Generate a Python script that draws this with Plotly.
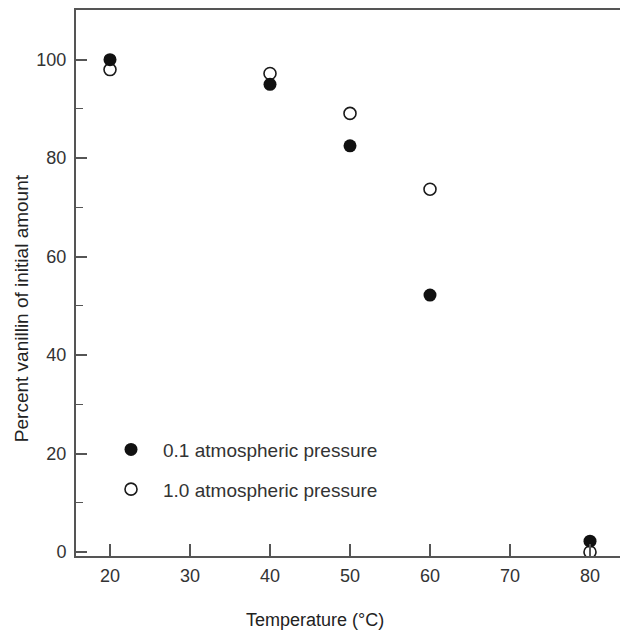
import plotly.graph_objects as go

temperature = [20, 40, 50, 60, 80]
pct_low_pressure = [100.0, 95.0, 82.5, 52.2, 2.2]     # 0.1 atmospheric pressure
pct_high_pressure = [98.0, 97.2, 89.1, 73.7, 0.0]     # 1.0 atmospheric pressure
series_names = ["0.1 atmospheric pressure", "1.0 atmospheric pressure"]
x_ticks = [20, 30, 40, 50, 60, 70, 80]
y_ticks = [0, 20, 40, 60, 80, 100]
x_title = "Temperature (°C)"
y_title = "Percent vanillin of initial amount"

FONT = "Liberation Sans, Arial, sans-serif"
AX = "#555555"
TXT = "#333333"

fig = go.Figure()
fig.add_trace(go.Scatter(
    x=temperature, y=pct_high_pressure, mode="markers", name=series_names[1],
    legendgroup="b", legendrank=2,
    marker=dict(symbol="circle", size=12, color="white",
                line=dict(color="#1a1a1a", width=1.6)),
))
fig.add_trace(go.Scatter(
    x=temperature, y=pct_low_pressure, mode="markers", name=series_names[0],
    legendgroup="a", legendrank=1,
    marker=dict(symbol="circle", size=13, color="#111111",
                line=dict(color="#111111", width=0)),
))

fig.update_layout(
    width=620, height=630,
    margin=dict(l=76, r=0, t=10, b=74),
    paper_bgcolor="white", plot_bgcolor="white",
    font=dict(family=FONT, size=18, color=TXT),
    showlegend=True,
    legend=dict(x=0.0423, y=0.2297, xanchor="left", yanchor="top",
                font=dict(family=FONT, size=19, color=TXT),
                bgcolor="rgba(0,0,0,0)", itemwidth=54, tracegroupgap=12,
                traceorder="grouped"),
    xaxis=dict(range=[15.75, 83.75], tickvals=x_ticks, ticks="inside",
               ticklen=12, tickwidth=1.6, tickcolor=AX,
               showline=True, linecolor=AX, linewidth=2, mirror=True,
               showgrid=False, zeroline=False, ticklabelstandoff=2,
               tickfont=dict(family=FONT, size=18, color=TXT)),
    yaxis=dict(range=[-0.81, 110.1], tickvals=y_ticks, ticks="inside",
               ticklen=11, tickwidth=1.6, tickcolor=AX,
               minor=dict(dtick=10, ticks="inside", ticklen=7, tickwidth=1.4,
                          tickcolor=AX, showgrid=False),
               showline=True, linecolor=AX, linewidth=2, mirror=False,
               showgrid=False, zeroline=False, ticklabelstandoff=4,
               tickfont=dict(family=FONT, size=18, color=TXT)),
    annotations=[
        dict(text=x_title, xref="paper", yref="paper", x=0.439, y=-0.118,
             xanchor="center", yanchor="middle", showarrow=False,
             font=dict(family=FONT, size=18, color="#222222")),
        dict(text=y_title, xref="paper", yref="paper", x=-0.101, y=0.454,
             xanchor="center", yanchor="middle", showarrow=False, textangle=-90,
             font=dict(family=FONT, size=19, color="#222222")),
    ],
)

fig.write_html("out.html", config={"displayModeBar": False},
               post_script="document.body.style.margin='0';")
